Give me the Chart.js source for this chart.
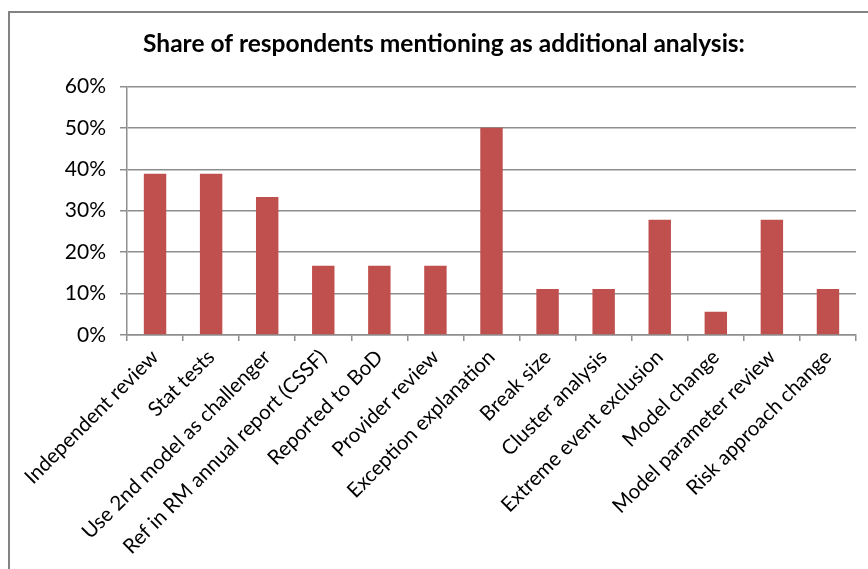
<!DOCTYPE html>
<html>
<head>
<meta charset="utf-8">
<script src="https://cdn.jsdelivr.net/npm/chart.js@4.4.1/dist/chart.umd.min.js"></script>
<style>
  html, body { margin: 0; padding: 0; background: #ffffff; }
  #wrap { position: absolute; left: 0; top: 0; width: 868px; height: 569px; }
  #frame { position: absolute; left: 8px; top: 11px; width: 900px; height: 600px;
           border-left: 2px solid #838383; border-top: 2px solid #838383; box-sizing: border-box; }
  canvas { position: absolute; left: 0; top: 0; }
</style>
</head>
<body>
<div id="wrap">
  <div id="frame"></div>
  <canvas id="c" width="868" height="569"></canvas>
</div>
<script>
const chartTitle = "Share of respondents mentioning as additional analysis:";
const categories = [
  "Independent review",
  "Stat tests",
  "Use 2nd model as challenger",
  "Ref in RM annual report (CSSF)",
  "Reported to BoD",
  "Provider review",
  "Exception explanation",
  "Break size",
  "Cluster analysis",
  "Extreme event exclusion",
  "Model change",
  "Model parameter review",
  "Risk approach change"
];
const shares = [0.389, 0.389, 0.333, 0.167, 0.167, 0.167, 0.5, 0.111, 0.111, 0.278, 0.056, 0.278, 0.111];
const yTicks = [0, 0.1, 0.2, 0.3, 0.4, 0.5, 0.6];

const FONT = "Lato, 'Liberation Sans', sans-serif";
const gridGray = "#8e8e8e";

new Chart(document.getElementById("c"), {
  type: "bar",
  data: {
    labels: categories,
    datasets: [{
      data: shares,
      backgroundColor: "#c0504d",
      borderColor: "#c0504d",
      borderWidth: 0,
      barPercentage: 0.4,
      categoryPercentage: 1.0
    }]
  },
  options: {
    responsive: false,
    animation: false,
    devicePixelRatio: 1,
    layout: { padding: { left: 32, right: 12, top: 0, bottom: 0 } },
    plugins: {
      legend: { display: false },
      tooltip: { enabled: false },
      title: {
        display: true,
        text: chartTitle,
        color: "#000000",
        font: { family: FONT, size: 24.5, weight: "bold" },
        padding: { top: 29, bottom: 28 }
      }
    },
    scales: {
      x: {
        offset: true,
        grid: {
          display: true,
          offset: true,
          drawOnChartArea: false,
          drawTicks: true,
          tickLength: 6,
          color: gridGray,
          lineWidth: 1.5
        },
        border: { display: true, color: gridGray, width: 1.5 },
        ticks: {
          autoSkip: false,
          maxRotation: 45,
          minRotation: 45,
          padding: 4,
          color: "#000000",
          font: { family: FONT, size: 20.5 }
        },
        afterFit: (s) => { s.height = 234; }
      },
      y: {
        min: 0,
        max: 0.6,
        afterBuildTicks: (s) => { s.ticks = yTicks.map(v => ({ value: v })); },
        grid: {
          color: gridGray,
          lineWidth: 1.5,
          drawTicks: true,
          tickLength: 7
        },
        border: { display: true, color: gridGray, width: 1.5 },
        ticks: {
          padding: 14,
          color: "#000000",
          font: { family: FONT, size: 21 },
          callback: (v) => Math.round(v * 100) + "%"
        },
        afterFit: (s) => { s.width = 95; }
      }
    }
  }
});
</script>
</body>
</html>
